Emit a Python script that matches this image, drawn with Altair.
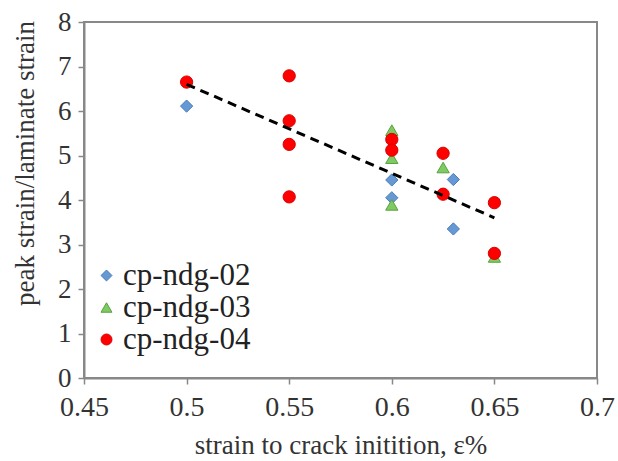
import altair as alt
import pandas as pd

series_names = ["cp-ndg-02", "cp-ndg-03", "cp-ndg-04"]

x02 = [0.5, 0.6, 0.6, 0.63, 0.63]
y02 = [6.11, 4.45, 4.05, 4.46, 3.35]

x03 = [0.6, 0.6, 0.6, 0.625, 0.65]
y03 = [5.57, 4.94, 3.89, 4.73, 2.72]

x04 = [0.5, 0.55, 0.55, 0.55, 0.55, 0.6, 0.6, 0.625, 0.625, 0.65, 0.65]
y04 = [6.65, 6.79, 5.78, 5.25, 4.07, 5.36, 5.12, 5.05, 4.13, 3.94, 2.80]

trend_x = [0.5, 0.65]
trend_y = [6.6, 3.6]

x_ticks = [0.45, 0.5, 0.55, 0.6, 0.65, 0.7]
y_ticks = [0, 1, 2, 3, 4, 5, 6, 7, 8]

rows = []
for name, xs, ys in zip(series_names, [x02, x03, x04], [y02, y03, y04]):
    for a, b in zip(xs, ys):
        rows.append({"series": name, "x": a, "y": b})
df = pd.DataFrame(rows)
trend = pd.DataFrame({"x": trend_x, "y": trend_y})

FONT = "Liberation Serif"

xscale = alt.Scale(domain=[0.45, 0.7], nice=False, zero=False)
yscale = alt.Scale(domain=[0, 8], nice=False)

xaxis = alt.Axis(values=x_ticks, format="~g", title="strain to crack initition, ε%",
                 grid=False, labelFont=FONT, labelFontSize=28, labelColor="#333",
                 titleFont=FONT, titleFontSize=27, titleFontWeight="normal", titleColor="#333",
                 domainColor="#888", domainWidth=2, tickColor="#888", tickWidth=1.5, tickSize=6,
                 labelBaseline="middle", labelPadding=23, labelFlush=False,
                 titleY=67, titleBaseline="middle")
yaxis = alt.Axis(values=y_ticks, title="peak strain/laminate strain",
                 grid=False, labelFont=FONT, labelFontSize=27, labelColor="#333",
                 titleFont=FONT, titleFontSize=27, titleFontWeight="normal", titleColor="#333",
                 domainColor="#888", domainWidth=2, tickColor="#888", tickWidth=1.5, tickSize=6,
                 labelPadding=7, titleX=-59, titleY=141, titleAlign="center",
                 titleBaseline="middle", titleAngle=270)

fills = ["#6699D3", "#7DCB62", "#FF0000"]
strokes = ["#4A7DBA", "#5AA040", "#D80000"]
shapes = ["diamond", "triangle-up", "circle"]

legend = alt.Legend(title=None, orient="none", legendX=7, legendY=238,
                    labelFont=FONT, labelFontSize=31, labelColor="#222",
                    symbolSize=120, rowPadding=0, labelOffset=1,
                    symbolStrokeWidth=1)

points = alt.Chart(df).mark_point(filled=True, size=150, opacity=1, strokeWidth=1).encode(
    x=alt.X("x:Q", scale=xscale, axis=xaxis),
    y=alt.Y("y:Q", scale=yscale, axis=yaxis),
    fill=alt.Fill("series:N", scale=alt.Scale(domain=series_names, range=fills), legend=legend),
    stroke=alt.Stroke("series:N", scale=alt.Scale(domain=series_names, range=strokes), legend=legend),
    shape=alt.Shape("series:N", scale=alt.Scale(domain=series_names, range=shapes), legend=legend),
)

line = alt.Chart(trend).mark_line(color="black", strokeWidth=3, strokeDash=[9, 6]).encode(
    x=alt.X("x:Q", scale=xscale),
    y=alt.Y("y:Q", scale=yscale),
)

chart = alt.layer(points, line).properties(
    width=513, height=356,
    autosize=alt.AutoSizeParams(type="none"),
    padding={"left": 84, "top": 22, "right": 21, "bottom": 83},
    background="white",
).configure(font=FONT).configure_view(stroke="#888", strokeWidth=2)

chart.save("out.html", embed_options={"renderer": "svg", "actions": False})
